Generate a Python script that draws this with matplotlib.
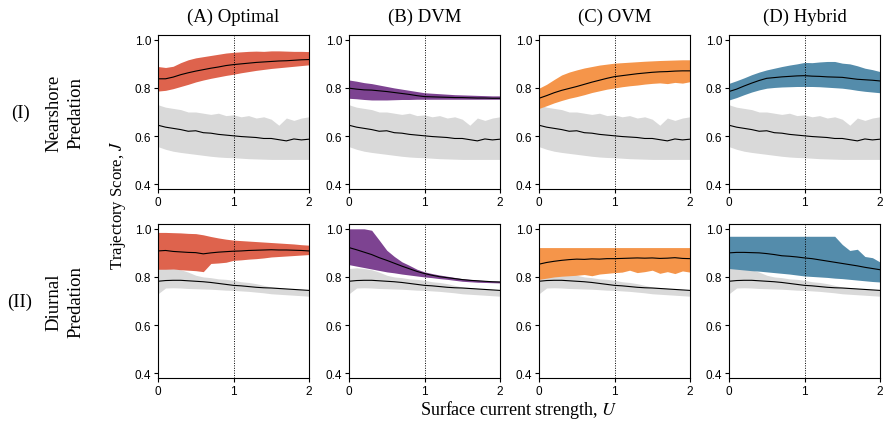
import numpy as np
import matplotlib
matplotlib.use("Agg")
import matplotlib.pyplot as plt
from matplotlib import font_manager as fm

# ---------------- data ----------------
U = [0.0, 0.1, 0.2, 0.3, 0.4, 0.5, 0.6, 0.7, 0.8, 0.9, 1.0,
     1.1, 1.2, 1.3, 1.4, 1.5, 1.6, 1.7, 1.8, 1.9, 2.0]

col_titles = ["(A) Optimal", "(B) DVM", "(C) OVM", "(D) Hybrid"]
row_labels = ["(I)", "(II)"]
row_names = ["Nearshore\nPredation", "Diurnal\nPredation"]
colors = ["#DE634D", "#7D4391", "#F5954A", "#548CAB"]
baseline_color = "#D9D9D9"

# Baseline (grey) for row I
base1_up = [0.73, 0.72, 0.715, 0.71, 0.70, 0.70, 0.695, 0.69, 0.695, 0.685, 0.688,
            0.68, 0.685, 0.675, 0.68, 0.67, 0.645, 0.675, 0.665, 0.675, 0.68]
base1_mean = [0.645, 0.637, 0.632, 0.627, 0.62, 0.622, 0.614, 0.612, 0.607, 0.604, 0.601,
              0.598, 0.596, 0.594, 0.59, 0.59, 0.585, 0.58, 0.588, 0.584, 0.587]
base1_lo = [0.556, 0.545, 0.537, 0.532, 0.528, 0.524, 0.52, 0.516, 0.513, 0.511, 0.51,
            0.508, 0.506, 0.505, 0.504, 0.503, 0.503, 0.503, 0.503, 0.503, 0.503]

# Baseline (grey) for row II
base2_up = [0.835, 0.838, 0.835, 0.83, 0.82, 0.807, 0.80, 0.797, 0.792, 0.79, 0.786,
            0.78, 0.777, 0.772, 0.765, 0.758, 0.756, 0.752, 0.75, 0.747, 0.744]
base2_mean = [0.782, 0.785, 0.786, 0.786, 0.784, 0.782, 0.78, 0.777, 0.773, 0.769, 0.765,
              0.763, 0.76, 0.757, 0.755, 0.754, 0.752, 0.75, 0.748, 0.746, 0.744]
base2_lo = [0.73, 0.754, 0.755, 0.754, 0.752, 0.751, 0.75, 0.749, 0.747, 0.745, 0.744,
            0.742, 0.74, 0.737, 0.734, 0.73, 0.728, 0.726, 0.724, 0.722, 0.72]

# Row I strategies
opt1_up = [0.889, 0.885, 0.89, 0.905, 0.917, 0.925, 0.93, 0.935, 0.94, 0.945, 0.948,
           0.95, 0.952, 0.953, 0.952, 0.954, 0.954, 0.953, 0.952, 0.952, 0.951]
opt1_mean = [0.838, 0.838, 0.845, 0.855, 0.863, 0.87, 0.876, 0.882, 0.887, 0.893, 0.897,
             0.90, 0.903, 0.906, 0.908, 0.91, 0.912, 0.913, 0.915, 0.917, 0.918]
opt1_lo = [0.787, 0.79, 0.797, 0.806, 0.815, 0.825, 0.833, 0.84, 0.846, 0.852, 0.857,
           0.863, 0.868, 0.873, 0.877, 0.881, 0.884, 0.887, 0.89, 0.893, 0.896]

dvm1_up = [0.833, 0.828, 0.822, 0.818, 0.812, 0.806, 0.80, 0.795, 0.79, 0.785, 0.78,
           0.778, 0.776, 0.774, 0.772, 0.771, 0.77, 0.769, 0.768, 0.767, 0.767]
dvm1_mean = [0.799, 0.795, 0.792, 0.791, 0.788, 0.785, 0.781, 0.777, 0.773, 0.768, 0.764,
             0.763, 0.762, 0.761, 0.76, 0.76, 0.759, 0.758, 0.758, 0.757, 0.757]
dvm1_lo = [0.757, 0.755, 0.752, 0.75, 0.75, 0.75, 0.751, 0.752, 0.752, 0.753, 0.753,
           0.753, 0.753, 0.753, 0.753, 0.753, 0.753, 0.753, 0.753, 0.753, 0.753]

ovm1_up = [0.799, 0.815, 0.835, 0.854, 0.866, 0.875, 0.883, 0.889, 0.895, 0.899, 0.903,
           0.905, 0.907, 0.909, 0.911, 0.9125, 0.914, 0.915, 0.916, 0.917, 0.917]
ovm1_mean = [0.757, 0.768, 0.78, 0.79, 0.798, 0.806, 0.815, 0.824, 0.832, 0.84, 0.847,
             0.851, 0.855, 0.859, 0.862, 0.865, 0.867, 0.868, 0.87, 0.871, 0.871]
ovm1_lo = [0.715, 0.726, 0.738, 0.748, 0.757, 0.764, 0.772, 0.781, 0.788, 0.795, 0.80,
           0.805, 0.809, 0.812, 0.816, 0.819, 0.821, 0.818, 0.823, 0.82, 0.826]

hyb1_up = [0.819, 0.83, 0.842, 0.855, 0.866, 0.875, 0.882, 0.889, 0.895, 0.90, 0.906,
           0.905, 0.908, 0.91, 0.91, 0.903, 0.90, 0.892, 0.882, 0.876, 0.868]
hyb1_mean = [0.785, 0.795, 0.808, 0.82, 0.831, 0.84, 0.843, 0.846, 0.848, 0.85, 0.851,
             0.849, 0.848, 0.846, 0.845, 0.844, 0.84, 0.836, 0.834, 0.832, 0.829]
hyb1_lo = [0.75, 0.76, 0.772, 0.783, 0.792, 0.799, 0.802, 0.804, 0.805, 0.806, 0.806,
           0.806, 0.805, 0.803, 0.801, 0.799, 0.795, 0.79, 0.786, 0.783, 0.78]

# Row II strategies
opt2_up = [0.985, 0.985, 0.984, 0.983, 0.981, 0.98, 0.975, 0.968, 0.962, 0.957, 0.953,
           0.951, 0.949, 0.947, 0.945, 0.943, 0.941, 0.939, 0.937, 0.934, 0.932]
opt2_mean = [0.908, 0.91, 0.906, 0.904, 0.902, 0.901, 0.896, 0.90, 0.903, 0.905, 0.907,
             0.908, 0.91, 0.911, 0.912, 0.913, 0.912, 0.912, 0.911, 0.91, 0.908]
opt2_lo = [0.832, 0.832, 0.833, 0.83, 0.828, 0.826, 0.822, 0.856, 0.858, 0.861, 0.869,
           0.871, 0.874, 0.876, 0.879, 0.883, 0.885, 0.887, 0.889, 0.891, 0.893]

dvm2_up = [1.0, 1.0, 1.0, 0.994, 0.953, 0.911, 0.885, 0.863, 0.848, 0.832, 0.821,
           0.814, 0.808, 0.803, 0.798, 0.793, 0.79, 0.787, 0.785, 0.783, 0.782]
dvm2_mean = [0.922, 0.913, 0.903, 0.893, 0.88, 0.869, 0.857, 0.845, 0.834, 0.823, 0.814,
             0.807, 0.801, 0.797, 0.793, 0.789, 0.786, 0.784, 0.782, 0.78, 0.779]
dvm2_lo = [0.851, 0.845, 0.839, 0.833, 0.827, 0.821, 0.817, 0.812, 0.808, 0.804, 0.80,
           0.797, 0.793, 0.79, 0.786, 0.782, 0.78, 0.778, 0.777, 0.776, 0.775]

ovm2_up = [0.922, 0.922, 0.922, 0.922, 0.922, 0.922, 0.922, 0.922, 0.922, 0.922, 0.922,
           0.922, 0.922, 0.922, 0.922, 0.922, 0.922, 0.922, 0.922, 0.922, 0.922]
ovm2_mean = [0.853, 0.86, 0.865, 0.869, 0.872, 0.874, 0.873, 0.875, 0.874, 0.876, 0.876,
             0.877, 0.878, 0.879, 0.878, 0.879, 0.877, 0.878, 0.88, 0.877, 0.876]
ovm2_lo = [0.79, 0.795, 0.80, 0.803, 0.805, 0.807, 0.81, 0.805, 0.812, 0.815, 0.818,
           0.82, 0.828, 0.818, 0.822, 0.828, 0.815, 0.822, 0.814, 0.825, 0.82]

hyb2_up = [0.969, 0.969, 0.969, 0.969, 0.969, 0.969, 0.969, 0.969, 0.969, 0.969, 0.969,
           0.969, 0.969, 0.969, 0.969, 0.935, 0.91, 0.915, 0.885, 0.88, 0.862]
hyb2_mean = [0.90, 0.902, 0.902, 0.901, 0.90, 0.897, 0.893, 0.888, 0.886, 0.883, 0.879,
             0.876, 0.871, 0.866, 0.861, 0.856, 0.851, 0.846, 0.84, 0.835, 0.83]
hyb2_lo = [0.835, 0.832, 0.829, 0.826, 0.824, 0.821, 0.818, 0.815, 0.812, 0.808, 0.804,
           0.802, 0.80, 0.798, 0.795, 0.793, 0.79, 0.787, 0.784, 0.781, 0.779]

rows = [
    [(opt1_lo, opt1_mean, opt1_up), (dvm1_lo, dvm1_mean, dvm1_up),
     (ovm1_lo, ovm1_mean, ovm1_up), (hyb1_lo, hyb1_mean, hyb1_up)],
    [(opt2_lo, opt2_mean, opt2_up), (dvm2_lo, dvm2_mean, dvm2_up),
     (ovm2_lo, ovm2_mean, ovm2_up), (hyb2_lo, hyb2_mean, hyb2_up)],
]
baselines = [(base1_lo, base1_mean, base1_up), (base2_lo, base2_mean, base2_up)]

yticks = [0.4, 0.6, 0.8, 1.0]
xticks = [0, 1, 2]

# ---------------- fonts ----------------
plt.rcParams["mathtext.fontset"] = "stix"
plt.rcParams["font.family"] = ["DejaVu Sans"]


def find_font(fname_part, fallback):
    for f in fm.findSystemFonts():
        if f.endswith(fname_part):
            return fm.FontProperties(fname=f)
    return fm.FontProperties(family=fallback)


tick_fp = find_font("LiberationSans-Regular.ttf", "DejaVu Sans")
tick_fp.set_size(8.5)
serif = ["Liberation Serif", "DejaVu Serif"]

# ---------------- figure ----------------
W, H = 885, 431
fig = plt.figure(figsize=(W / 100, H / 100), dpi=100)

col_left = [158, 349, 539, 729]
ax_w = 151
row_top = [36, 225]
ax_h = 154

for r in range(2):
    blo, bmean, bup = baselines[r]
    for c in range(4):
        ax = fig.add_axes([col_left[c] / W, 1 - (row_top[r] + ax_h) / H, ax_w / W, ax_h / H])
        ax.fill_between(U, blo, bup, color=baseline_color, lw=0, zorder=1)
        ax.plot(U, bmean, color="black", lw=0.8, zorder=3)
        lo, mean, up = rows[r][c]
        ax.fill_between(U, lo, up, color=colors[c], lw=0, zorder=2)
        ax.plot(U, mean, color="black", lw=0.8, zorder=4)
        ax.axvline(1.0, color="black", lw=0.7, ls=(0, (1, 1.5)), zorder=5)
        ax.set_xlim(0, 2)
        ax.set_ylim(0.38, 1.02)
        ax.set_xticks(xticks)
        ax.set_xticklabels([str(t) for t in xticks], fontproperties=tick_fp)
        ax.set_yticks(yticks)
        ax.set_yticklabels([f"{t:.1f}" for t in yticks], fontproperties=tick_fp)
        ax.tick_params(length=3, width=0.8, pad=2)
        for s in ax.spines.values():
            s.set_linewidth(0.8)
        if r == 0:
            fig.text((col_left[c] + ax_w / 2) / W, 1 - 17 / H, col_titles[c],
                     ha="center", va="center", fontsize=13.5, family=serif)

for r in range(2):
    yc = 1 - (row_top[r] + ax_h / 2) / H
    fig.text(20 / W, yc, row_labels[r], ha="center", va="center", fontsize=13.5, family=serif)
    fig.text(65 / W, yc, row_names[r], ha="center", va="center", rotation=90,
             fontsize=13.5, family=serif, linespacing=1.45)

fig.text(118 / W, 1 - 205 / H, "Trajectory Score, $J$", ha="center", va="center",
         rotation=90, fontsize=12, family=serif)
fig.text(519 / W, 1 - 410 / H, "Surface current strength, $U$", ha="center", va="center",
         fontsize=13, family=serif)

fig.savefig("out.png", dpi=100)
